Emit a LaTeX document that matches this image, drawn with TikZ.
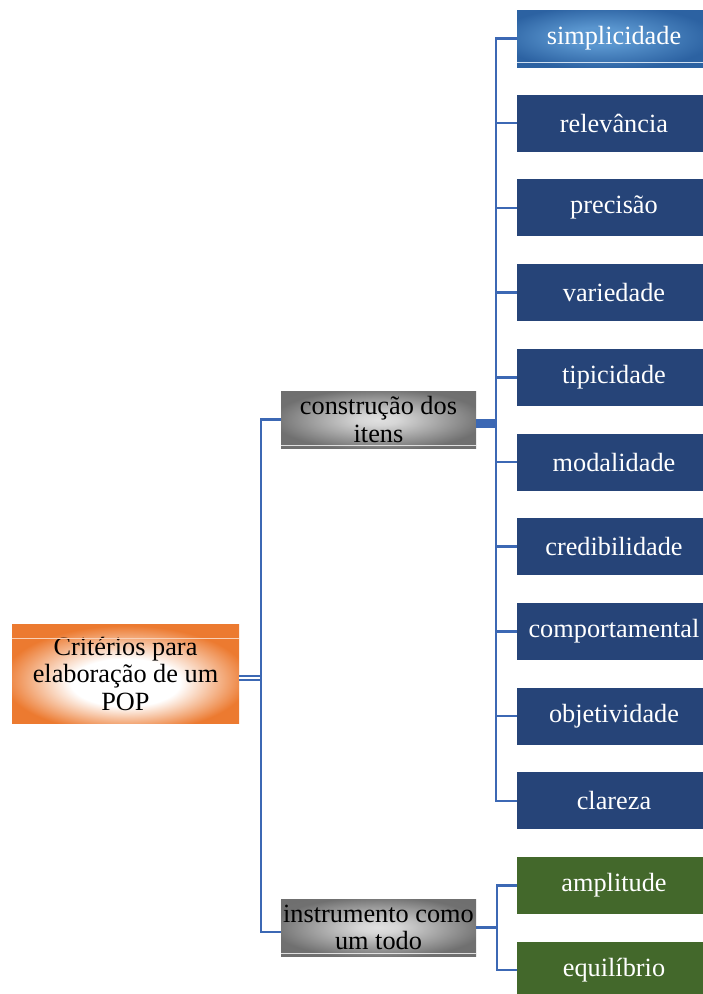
\documentclass[tikz,border=0pt]{standalone}
\usepackage{fontspec}
\setmainfont{Liberation Serif}
\definecolor{connblue}{HTML}{3C68B4}
\definecolor{darkblue}{HTML}{264478}
\definecolor{leafgreen}{HTML}{43682B}
\definecolor{poporange}{HTML}{EC7A30}
\definecolor{simpdark}{HTML}{2C62A2}
\definecolor{simplight}{HTML}{5A96CF}
\pgfdeclareradialshading{rootshade}{\pgfpoint{0bp}{-6bp}}{%
  color(0bp)=(white); color(12bp)=(white); color(27bp)=(poporange); color(50bp)=(poporange)}
\pgfdeclareradialshading{grayshade}{\pgfpoint{0bp}{0bp}}{%
  color(0bp)=(black!12); color(5bp)=(black!16); color(27bp)=(black!56); color(50bp)=(black!58)}
\pgfdeclareradialshading{simpshade}{\pgfpoint{-5bp}{2bp}}{%
  color(0bp)=(simplight); color(8bp)=(simplight); color(28bp)=(simpdark); color(50bp)=(simpdark)}
\begin{document}
\begin{tikzpicture}[x=1pt,y=-1pt,
  txt/.style={rectangle, inner sep=0pt, align=center, font=\fontsize{26.3}{27.5}\selectfont},
  rootbox/.style={txt, minimum width=227pt, minimum height=99pt, shading=rootshade, text=black},
  midbox/.style={txt, minimum width=195pt, minimum height=57pt, shading=grayshade, text=black},
  leafbox/.style={txt, minimum width=194pt, minimum height=57pt, fill=darkblue, text=white},
  simpbox/.style={txt, minimum width=194pt, minimum height=57pt, shading=simpshade, text=white},
  greenbox/.style={txt, minimum width=194pt, minimum height=57pt, fill=leafgreen, text=white},
  conn/.style={draw=connblue, line width=2.5pt},
]
\clip (0,0) rectangle (703,994);
\fill[white] (0,0) rectangle (703,994);

\node[rootbox] (root) at (125.5,673.5) {Critérios para\\elaboração de um\\POP};
\draw[white!65!poporange, line width=1.3pt] ([yshift=-15pt]root.north west) -- ([yshift=-15pt]root.north east);

\node[midbox] (cons) at (378.5,419.5) {construção dos\\itens};
\node[midbox] (instr) at (378.5,927.5) {instrumento como\\um todo};
\draw[gray!25, line width=1.2pt] ([yshift=3pt]cons.south west) -- ([yshift=3pt]cons.south east);
\draw[gray!25, line width=1.2pt] ([yshift=3pt]instr.south west) -- ([yshift=3pt]instr.south east);

\node[simpbox] (b0) at (614,38.5) {simplicidade};
\draw[white!70!simplight, line width=1.2pt] ([yshift=5pt]b0.south west) -- ([yshift=5pt]b0.south east);
\node[leafbox] (b1) at (614,123.2) {relevância};
\node[leafbox] (b2) at (614,207.9) {precisão};
\node[leafbox] (b3) at (614,292.6) {variedade};
\node[leafbox] (b4) at (614,377.3) {tipicidade};
\node[leafbox] (b5) at (614,462.0) {modalidade};
\node[leafbox] (b6) at (614,546.7) {credibilidade};
\node[leafbox] (b7) at (614,631.4) {comportamental};
\node[leafbox] (b8) at (614,716.1) {objetividade};
\node[leafbox] (b9) at (614,800.8) {clareza};
\node[greenbox] (g0) at (614,885.5) {amplitude};
\node[greenbox] (g1) at (614,970.2) {equilíbrio};

\coordinate (rj) at (261,0);
\coordinate (cj) at (496,0);
\coordinate (ij) at (497,0);

% root to second level
\draw[draw=connblue, line width=1.8pt, double=white, double distance=2.2pt]
  ([yshift=-4.5pt]root.east) -- ([yshift=-4.5pt]root.east -| rj);
\draw[conn] (cons.west) -- (cons.west -| rj) -- ([yshift=-4.5pt]instr.west -| rj) -- ([yshift=-4.5pt]instr.west);

% construction to leaves
\draw[draw=connblue, line width=9pt] ([yshift=-3.5pt]cons.east) -- ([yshift=-3.5pt]cons.east -| cj);
\draw[conn] (b0.west) -- (b0.west -| cj) -- (b9.west -| cj) -- (b9.west);
\foreach \i in {1,...,8} { \draw[conn] (b\i.west -| cj) -- (b\i.west); }

% instrument to leaves
\draw[conn] (instr.east) -- (instr.east -| ij);
\draw[conn] (g0.west) -- (g0.west -| ij) -- (g1.west -| ij) -- (g1.west);
\end{tikzpicture}
\end{document}
